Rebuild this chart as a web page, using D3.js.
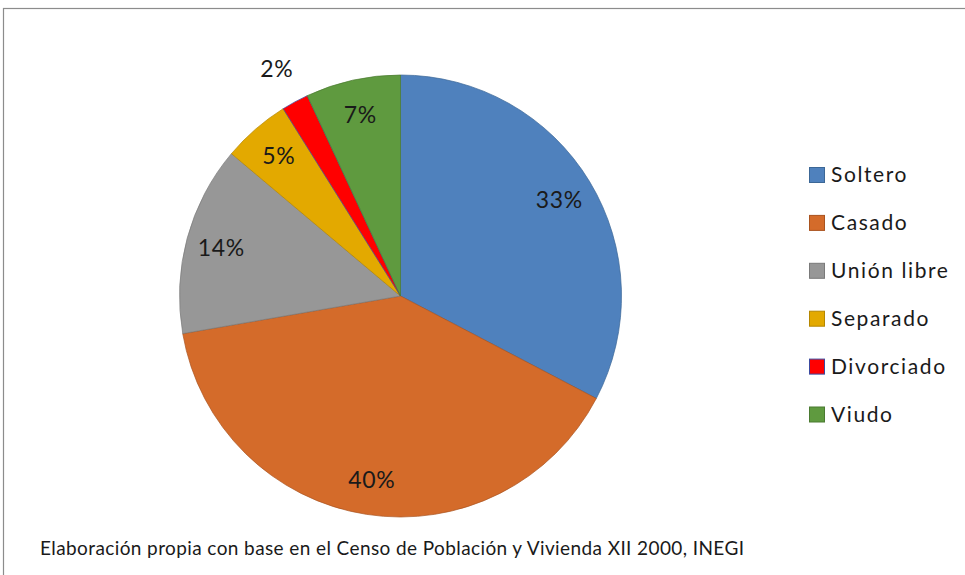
<!DOCTYPE html>
<html>
<head>
<meta charset="utf-8">
<script src="https://cdn.jsdelivr.net/npm/d3@7/dist/d3.min.js"></script>
<style>
  html, body { margin: 0; padding: 0; background: #ffffff; }
  svg { display: block; }
  text { font-family: Lato, "Open Sans", sans-serif; fill: #1a1a1a; }
</style>
</head>
<body>
<svg id="chart" width="965" height="575"></svg>
<script>
// Estado civil de la población (porcentajes)
const categories = ["Soltero", "Casado", "Unión libre", "Separado", "Divorciado", "Viudo"];
const values = [33, 40, 14, 5, 2, 7];
const colors = ["#4F81BD", "#D46B2A", "#979797", "#E3A900", "#FF0000", "#5F9A3F"];
const strokes = ["#3c6796", "#a9531f", "#7a7a7a", "#b58700", "#3b4aa0", "#4a7a31"];
const note = "Elaboración propia con base en el Censo de Población y Vivienda XII 2000, INEGI";

const svg = d3.select("#chart");
const W = 965, H = 575;

// chart frame
svg.append("rect")
  .attr("x", 3.5).attr("y", 8.5)
  .attr("width", W + 10).attr("height", H + 10)
  .attr("fill", "#ffffff")
  .attr("stroke", "#8c8c8c").attr("stroke-width", 1.2);

const cx = 400.5, cy = 296, R = 221;
const total = d3.sum(values);

const pie = d3.pie().sort(null).value(d => d.v);
const arcs = pie(categories.map((c, i) => ({ c, v: values[i], i })));

const arc = d3.arc().innerRadius(0).outerRadius(R);
const labelArcIn = d3.arc().innerRadius(R * 0.84).outerRadius(R * 0.84);
const labelArcOut = d3.arc().innerRadius(R + 38).outerRadius(R + 38);

const g = svg.append("g").attr("transform", `translate(${cx},${cy})`);

g.selectAll("path.slice")
  .data(arcs)
  .join("path")
  .attr("class", "slice")
  .attr("d", arc)
  .attr("fill", d => colors[d.data.i])
  .attr("stroke", d => strokes[d.data.i])
  .attr("stroke-width", 0.7)
  .attr("stroke-linejoin", "round");

const pct = d => Math.round(d.data.v / total * 100);

// percentage labels, centred on the label point (cap height ≈ 0.72em)
const lblSize = 23;
g.selectAll("text.lbl")
  .data(arcs)
  .join("text")
  .attr("class", "lbl")
  .attr("transform", d => {
    const p = (pct(d) < 3 ? labelArcOut : labelArcIn).centroid(d);
    return `translate(${p[0]},${p[1] + lblSize * 0.36})`;
  })
  .attr("text-anchor", "middle")
  .attr("font-size", lblSize)
  .attr("letter-spacing", 0.7)
  .text(d => pct(d) + "%");

// legend
const legend = svg.append("g").attr("transform", "translate(809,174.5)");
const rowH = 47.9;
const item = legend.selectAll("g.item")
  .data(categories)
  .join("g")
  .attr("class", "item")
  .attr("transform", (d, i) => `translate(0,${i * rowH})`);

item.append("rect")
  .attr("x", 0.5).attr("y", -7)
  .attr("width", 15).attr("height", 15)
  .attr("fill", (d, i) => colors[i])
  .attr("stroke", (d, i) => strokes[i])
  .attr("stroke-width", 1);

item.append("text")
  .attr("x", 22)
  .attr("y", 7.5)
  .attr("font-size", 21)
  .attr("letter-spacing", 1.6)
  .text(d => d);

// source note
svg.append("text")
  .attr("x", 40)
  .attr("y", 555)
  .attr("font-size", 19)
  .attr("letter-spacing", 0.4)
  .text(note);
</script>
</body>
</html>
